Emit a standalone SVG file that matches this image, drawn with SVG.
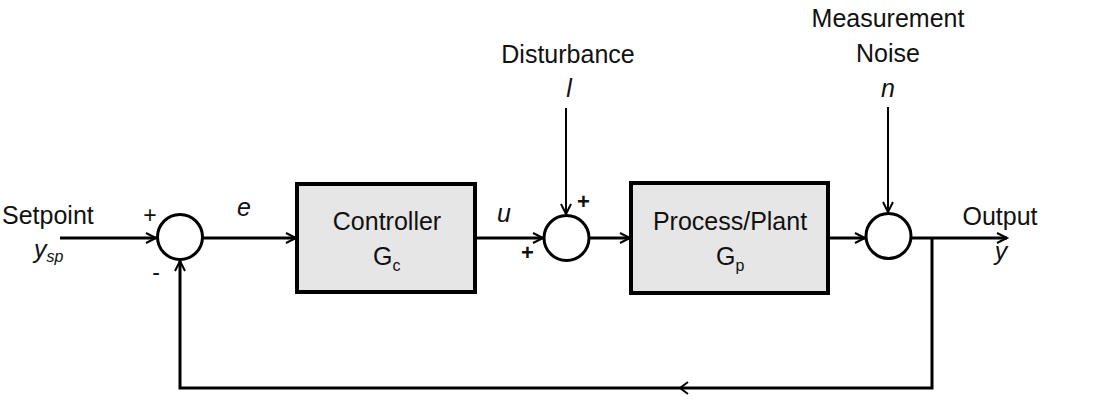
<svg xmlns="http://www.w3.org/2000/svg" width="1106" height="409" viewBox="0 0 1106 409">
<defs>
<marker id="arr" markerWidth="14" markerHeight="14" refX="11" refY="6" orient="auto" markerUnits="userSpaceOnUse">
<path d="M1,1 L11,6 L1,11" fill="none" stroke="#000" stroke-width="2"/>
</marker>
<style>
text{font-family:"Liberation Sans",Arial,sans-serif;font-size:25px;fill:#111}
.it{font-style:italic}
.sub{font-size:16px}
.sign{font-size:22px;font-weight:bold}
.pm{font-size:23px}
.blk{fill:#e6e6e6;stroke:#000;stroke-width:4}
.sum{fill:#fff;stroke:#000;stroke-width:3}
.ln{fill:none;stroke:#000;stroke-width:3}
.thin{fill:none;stroke:#000;stroke-width:2}
</style>
</defs>
<rect width="1106" height="409" fill="#fff"/>
<g id="connectors">
<path class="ln" d="M60,238 H156" marker-end="url(#arr)"/>
<path class="ln" d="M202,238 H296" marker-end="url(#arr)"/>
<path class="ln" d="M475,238 H543" marker-end="url(#arr)"/>
<path class="ln" d="M589,238 H630" marker-end="url(#arr)"/>
<path class="ln" d="M828,238 H865" marker-end="url(#arr)"/>
<path class="ln" d="M911,238 H1007" marker-end="url(#arr)"/>
<path class="ln" d="M932,238 V388 H180 V261" marker-end="url(#arr)"/>
<path class="thin" d="M688,382 L680,388 L688,394"/>
<path class="thin" d="M566,108 V214" marker-end="url(#arr)"/>
<path class="thin" d="M888,107 V212" marker-end="url(#arr)"/>
</g>
<g id="sum1"><circle class="sum" cx="180" cy="237" r="22.5"/></g>
<g id="sum2"><circle class="sum" cx="566.5" cy="238" r="22.5"/></g>
<g id="sum3"><circle class="sum" cx="888.5" cy="236" r="22.5"/></g>
<g id="controller">
<rect class="blk" x="297" y="184" width="178" height="108"/>
<text x="387" y="230" text-anchor="middle">Controller</text>
<text x="373" y="265">G<tspan class="sub" dy="6">c</tspan></text>
</g>
<g id="plant">
<rect class="blk" x="631" y="183" width="197" height="110"/>
<text x="730" y="230" text-anchor="middle">Process/Plant</text>
<text x="716" y="265">G<tspan class="sub" dy="6">p</tspan></text>
</g>
<g id="setpoint">
<text x="2" y="224">Setpoint</text>
<text x="34" y="258" class="it">y<tspan class="sub" dy="4">sp</tspan></text>
</g>
<g id="disturbance">
<text x="568" y="63" text-anchor="middle">Disturbance</text>
<text x="569" y="97" text-anchor="middle" class="it">l</text>
</g>
<g id="noise">
<text x="888" y="27" text-anchor="middle">Measurement</text>
<text x="888" y="62" text-anchor="middle">Noise</text>
<text x="888" y="97" text-anchor="middle" class="it">n</text>
</g>
<g id="output">
<text x="1000" y="225" text-anchor="middle">Output</text>
<text x="1001" y="260" text-anchor="middle" class="it">y</text>
</g>
<g id="labels">
<text x="150" y="223" text-anchor="middle" class="pm">+</text>
<text x="156" y="280" text-anchor="middle" class="pm">-</text>
<text x="244" y="216" text-anchor="middle" class="it">e</text>
<text x="504" y="222" text-anchor="middle" class="it">u</text>
<text x="527.5" y="260" text-anchor="middle" class="sign">+</text>
<text x="583.5" y="209" text-anchor="middle" class="sign">+</text>
</g>
</svg>
